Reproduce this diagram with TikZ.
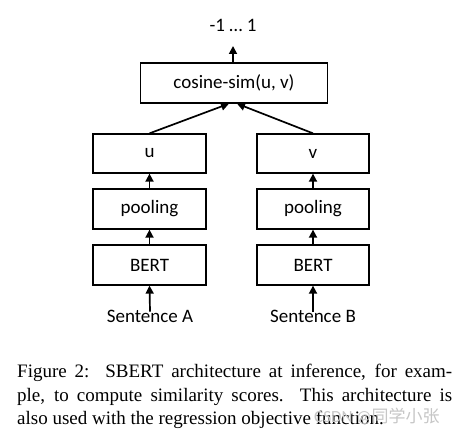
\documentclass[tikz,border=0pt]{standalone}
\usepackage{fontspec}
\setmainfont{Liberation Serif}
\newfontfamily\diagfont{Carlito}
\newfontfamily\cjkfont{Noto Sans CJK SC}
\usetikzlibrary{arrows.meta}
\begin{document}
\begin{tikzpicture}[x=1pt,y=-1pt,
  blk/.style={draw=black, line width=1.3pt, inner sep=0pt, font=\diagfont\fontsize{19}{22}\selectfont, text=black},
  lbl/.style={inner sep=0pt, font=\diagfont\fontsize{19}{22}\selectfont, text=black},
  arr/.style={line width=1.7pt, -{Triangle[width=8pt,length=8pt]}}
]
\useasboundingbox[fill=white] (0,0) rectangle (466,435);

\node[blk, minimum width=187pt, minimum height=40pt] (cos) at (234,83) {cosine-sim(u, v)};
\node[lbl] (out) at (233,25) {-1 \dots\ 1};

\node[blk, minimum width=113pt, minimum height=39pt] (u) at (149.5,153.5) {u};
\node[blk, minimum width=113pt, minimum height=40pt] (pa) at (149.5,209) {pooling};
\node[blk, minimum width=113pt, minimum height=40pt] (ba) at (149.5,265) {BERT};
\node[lbl] (sa) at (150,316) {Sentence A};

\node[blk, minimum width=112pt, minimum height=39pt] (v) at (313,153.5) {v};
\node[blk, minimum width=112pt, minimum height=40pt] (pb) at (313,209) {pooling};
\node[blk, minimum width=112pt, minimum height=40pt] (bb) at (313,265) {BERT};
\node[lbl] (sb) at (313,316) {Sentence B};

\coordinate (cl) at ([xshift=-5pt]cos.south);
\coordinate (cr) at ([xshift=3pt]cos.south);
\coordinate (top) at (233,46);

\draw[arr] (cos.north -| top) -- (top);
\draw[arr] (u.north) -- (cl);
\draw[arr] (v.north) -- (cr);
\draw[arr] (pa.north) -- (u.south);
\draw[arr] (pb.north) -- (v.south);
\draw[arr] (ba.north) -- (pa.south);
\draw[arr] (bb.north) -- (pb.south);
\draw[arr] ([yshift=-2pt]sa.north) -- (ba.south);
\draw[arr] ([yshift=-2pt]sb.north) -- (bb.south);

\node[anchor=north west, inner sep=0pt, text width=435pt, align=justify,
  font=\fontsize{19}{23.5}\selectfont] (cap) at (17,364)
  {Figure 2:\ \ SBERT architecture at inference, for exam-\linebreak ple, to compute similarity scores.\ \ This architecture is\linebreak also used with the regression objective function.};

\node[anchor=base west, inner sep=0pt, text=gray!45, font=\fontsize{17}{20}\selectfont] (wm) at (314,423)
  {\diagfont CSDN @\cjkfont 同学小张};
\end{tikzpicture}
\end{document}
